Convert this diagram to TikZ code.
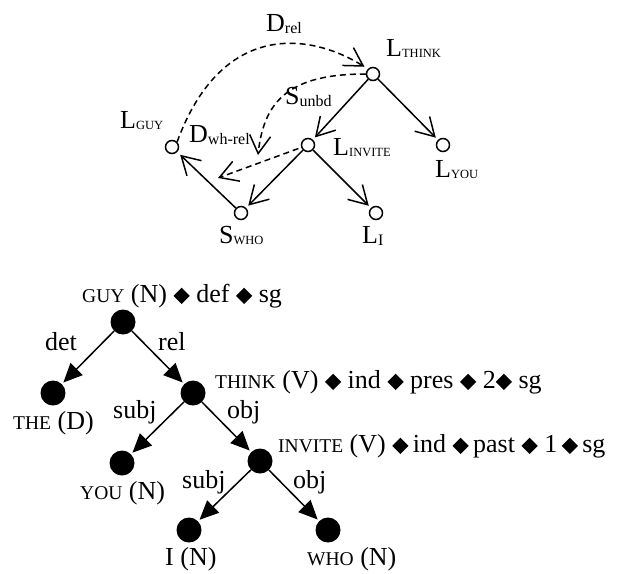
\documentclass[tikz,border=0pt]{standalone}
\usepackage{fontspec}
\usepackage{graphicx}
\setmainfont{Liberation Serif}
\usetikzlibrary{arrows.meta}
\newcommand\dm{\raisebox{-2pt}{\rotatebox{45}{\rule{11.5pt}{11.5pt}}}}
\newcommand\smc[1]{{\fontsize{19.5}{20}\selectfont #1}}
\newcommand\subu[1]{\raisebox{-1.5pt}{\fontsize{12.5}{13}\selectfont #1}}
\newcommand\subl[1]{\raisebox{-2.5pt}{\fontsize{16}{16}\selectfont #1}}
\begin{document}
\begin{tikzpicture}[x=1pt,y=-1pt,font=\fontsize{26}{30}\selectfont,
  lnode/.style={circle,draw,line width=1.5pt,fill=white,minimum size=13pt,inner sep=0pt},
  tnode/.style={circle,fill=black,minimum size=25pt,inner sep=0pt},
  lab/.style={anchor=base west,inner sep=0pt},
  sarr/.style={line width=1.5pt,-{Straight Barb[length=18pt,width=21pt]}},
  darr/.style={sarr,dash pattern=on 6pt off 4pt},
  tarr/.style={line width=1.5pt,-{Triangle[length=19pt,width=17pt]}}]
\useasboundingbox (0,0) rectangle (617,573);
% ---------- top graph ----------
\node[lnode] (lthink) at (373,74) {};
\node[lnode] (lguy) at (172,147) {};
\node[lnode] (linvite) at (308,145) {};
\node[lnode] (lyou) at (443,145) {};
\node[lnode] (swho) at (241,213) {};
\node[lnode] (li) at (376,213) {};
\coordinate (sunbdend) at (258,155);
\coordinate (dwhend) at (218,178);

\node[lab] (tdrel) at (266,31) {D\subl{rel}};
\node[lab] (tlthink) at (386,56) {L\subu{THINK}};
\node[lab] (tsunbd) at (285,104) {S\subl{unbd}};
\node[lab] (tlguy) at (120,128) {L\subu{GUY}};
\node[lab] (tdwh) at (189,142) {D\subl{wh-rel}};
\node[lab] (tlinvite) at (333,155) {L\subu{INVITE}};
\node[lab] (tlyou) at (435,177) {L\subu{YOU}};
\node[lab] (tswho) at (219,243) {S\subu{WHO}};
\node[lab] (tli) at (362,243) {L\subl{I}};

\draw[sarr,shorten >=3pt] (lthink) -- (linvite);
\draw[sarr,shorten >=3pt] (lthink) -- (lyou);
\draw[sarr,shorten >=3pt] (linvite) -- (swho);
\draw[sarr,shorten >=3pt] (linvite) -- (li);
\draw[sarr,shorten >=4pt] (swho) -- (lguy);

\draw[darr,shorten >=4pt] (lguy.north east) .. controls (220,25) and (305,30) .. (lthink.north west);
\draw[darr] (lthink.west) .. controls (290,74) and (264,100) .. (sunbdend);
\draw[darr,shorten <=3pt] (linvite) -- (dwhend);

% ---------- bottom tree ----------
\node[tnode] (guy) at (123,322) {};
\node[tnode] (the) at (53,393) {};
\node[tnode] (think) at (193,393) {};
\node[tnode] (you) at (122,463) {};
\node[tnode] (invite) at (260,461) {};
\node[tnode] (i) at (189,530) {};
\node[tnode] (who) at (328,530) {};

\draw[tarr,shorten >=2pt] (guy) -- (the);
\draw[tarr,shorten >=2pt] (guy) -- (think);
\draw[tarr,shorten >=2pt] (think) -- (you);
\draw[tarr,shorten >=2pt] (think) -- (invite);
\draw[tarr,shorten >=2pt] (invite) -- (i);
\draw[tarr,shorten >=2pt] (invite) -- (who);

\node[lab] (tguy) at (82,302) {\smc{GUY} (N) \dm{} def \dm{} sg};
\node[lab] (tthink) at (215,388) {\smc{THINK} (V) \dm{} ind \dm{} pres \dm{} 2\dm{} sg};
\node[lab] (tinvite) at (278,452) {\smc{INVITE} (V) \dm\,ind \dm\,past \dm{} 1\,\dm\,sg};
\node[lab] (tthe) at (13,429) {\smc{THE} (D)};
\node[lab] (tyou) at (80,499) {\smc{YOU} (N)};
\node[lab] (ti) at (165,565) {I (N)};
\node[lab] (twho) at (307,565) {\smc{WHO} (N)};

\node[lab] (edet) at (45,350) {det};
\node[lab] (erel) at (158,350) {rel};
\node[lab] (esubj1) at (113,418) {subj};
\node[lab] (eobj1) at (227,418) {obj};
\node[lab] (esubj2) at (182,488) {subj};
\node[lab] (eobj2) at (293,488) {obj};
\end{tikzpicture}
\end{document}
